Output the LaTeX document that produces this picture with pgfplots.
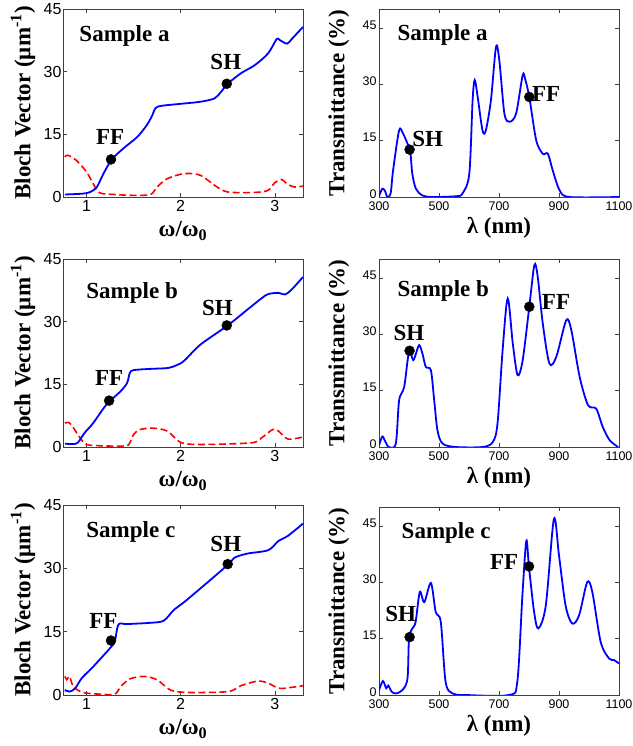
\documentclass[border=0pt]{standalone}
\usepackage{fontspec}
\setmainfont{Liberation Serif}
\newfontfamily\ticksf{Liberation Sans}
\usepackage{pgfplots}
\pgfplotsset{compat=1.18}

\tikzset{ann/.style={font=\fontsize{23}{24}\selectfont\bfseries, text=black}}
\pgfplotsset{
  base/.style={scale only axis, width=240pt, height=188pt,
    axis line style={black!75, line width=0.6pt},
    tick align=inside, major tick length=4pt,
    tick style={black!75, line width=0.5pt},
    /pgf/number format/assume math mode=true,
    /pgf/number format/1000 sep={},
    label style={font=\fontsize{23}{24}\selectfont\bfseries},
    ylabel style={at={(axis description cs:-0.167,0.5)}, anchor=center},
    anchor=south west},
  bloch/.style={base, xmin=0.75, xmax=3.3, ymin=0, ymax=45,
    xtick={1,2,3}, ytick={0,15,30,45},
    tick label style={font=\ticksf\fontsize{16}{16}\selectfont},
    yticklabel style={xshift=2pt},
    xlabel={ω/ω\textsubscript{0}},
    ylabel={Bloch Vector (μm\textsuperscript{-1})},
    xlabel style={at={(axis description cs:0.5,-0.18)}, anchor=center}},
  trans/.style={base, xmin=300, xmax=1100, ymin=0, ymax=50,
    xtick={300,500,700,900,1100}, ytick={0,15,30,45},
    tick label style={font=\ticksf\fontsize{12.5}{13}\selectfont},
    yticklabel style={xshift=1pt, yshift=3pt},
    xticklabel style={yshift=-1pt},
    xlabel={λ (nm)}, ylabel={Transmittance (\%)},
    xlabel style={at={(axis description cs:0.5,-0.165)}, anchor=center}},
  re/.style={blue, line width=1.8pt, smooth, tension=0.5, no marks},
  im/.style={red, line width=1.6pt, dash pattern=on 7pt off 3.5pt, smooth, tension=0.5, no marks},
  pt/.style={only marks, mark=*, mark size=5pt, black},
}

\begin{document}
\begin{tikzpicture}
\path[use as bounding box] (0,0) rectangle (632pt,746pt);

% ---- row 1: sample a
\begin{axis}[bloch, at={(63pt,549pt)}]
  \addplot[im] coordinates {(0.77,9.6) (0.8,10.0) (0.89,8.8) (1.0,6.0) (1.07,3.2) (1.14,1.0) (1.29,0.6) (1.5,0.4) (1.68,0.6) (1.75,2.4) (1.86,4.4) (2.04,5.6) (2.21,5.2) (2.36,2.8) (2.5,1.2) (2.79,1.1) (2.93,1.6) (3.0,3.4) (3.07,4.2) (3.14,3.0) (3.21,2.4) (3.3,2.6)};
  \addplot[re] coordinates {(0.77,0.6) (0.96,0.8) (1.04,1.2) (1.11,2.4) (1.18,5.6) (1.27,9.0) (1.39,11.6) (1.54,14.4) (1.64,17.2) (1.70,19.6) (1.73,21.2) (1.79,21.8) (2.0,22.3) (2.21,22.8) (2.36,23.6) (2.43,25.2) (2.5,27.1) (2.64,29.6) (2.79,31.6) (2.93,34.4) (3.02,37.8) (3.05,37.6) (3.13,36.7) (3.18,37.8) (3.3,40.7)};
  \addplot[pt] coordinates {(1.26,9.0) (2.49,27.1)};
  \node[ann, anchor=west] at (rel axis cs:0.054,0.856) {Sample a};
  \node[ann] at (axis cs:1.25,14.4) {FF};
  \node[ann] at (axis cs:2.48,32.4) {SH};
\end{axis}
\begin{axis}[trans, at={(379pt,549pt)}]
  \addplot[re] coordinates {(300,0.2) (311,2.2) (320,1.6) (328,0) (339,1.1) (347,7.1) (367,17.7) (380,16.9) (395,14.2) (404,12.4) (411,6.2) (423,2.2) (445,0.4) (478,0) (556,0.2) (578,0.9) (601,6.2) (612,25.7) (619,31.1) (629,26.6) (645,17.7) (656,17.7) (673,25.7) (690,39.9) (701,36.4) (718,22.2) (735,20.0) (757,22.2) (779,32.4) (788,31.1) (801,26.6) (824,15.1) (846,11.5) (863,11.5) (879,7.1) (902,1.8) (935,0) (1100,0)};
  \addplot[pt] coordinates {(402,12.6) (801,26.6)};
  \node[ann, anchor=west] at (rel axis cs:0.0625,0.86) {Sample a};
  \node[ann] at (axis cs:857,27.5) {FF};
  \node[ann] at (axis cs:462,15.5) {SH};
\end{axis}

% ---- row 2: sample b
\begin{axis}[bloch, at={(63pt,299pt)}]
  \addplot[im] coordinates {(0.77,5.7) (0.80,5.9) (0.84,5.3) (0.93,2.2) (1.0,0.6) (1.14,0.3) (1.39,0.2) (1.45,0.6) (1.5,3.0) (1.57,4.2) (1.71,4.5) (1.86,3.8) (2.0,1.1) (2.21,0.6) (2.75,1.0) (2.86,2.2) (2.98,4.2) (3.04,3.8) (3.14,1.9) (3.3,2.4)};
  \addplot[re] coordinates {(0.77,0.8) (0.86,0.7) (0.91,1.1) (0.98,3.4) (1.07,5.7) (1.21,10.1) (1.36,13.3) (1.43,15.3) (1.46,17.7) (1.5,18.4) (1.68,18.7) (1.86,18.9) (1.96,19.6) (2.04,20.7) (2.21,24.5) (2.5,29.1) (2.71,32.9) (2.86,35.6) (2.93,36.6) (3.04,36.9) (3.11,36.5) (3.18,37.7) (3.3,40.7)};
  \addplot[pt] coordinates {(1.24,11.1) (2.49,29.1)};
  \node[ann, anchor=west] at (rel axis cs:0.083,0.82) {Sample b};
  \node[ann] at (axis cs:1.24,16.5) {FF};
  \node[ann] at (axis cs:2.39,33.3) {SH};
\end{axis}
\begin{axis}[trans, at={(379pt,299pt)}]
  \addplot[re] coordinates {(300,0.4) (311,2.8) (320,1.6) (333,0) (356,0.9) (367,12.4) (384,16.0) (400,25.3) (414,23.1) (423,24.8) (434,27.1) (445,24.8) (456,21.3) (473,20.4) (484,12.4) (495,4.4) (512,0.9) (556,0) (645,0) (679,1.3) (695,6.2) (712,25.7) (729,39.5) (746,27.5) (762,19.1) (779,23.1) (801,37.3) (818,48.4) (829,45.3) (846,32.8) (868,22.2) (891,24.0) (924,33.7) (941,31.1) (969,18.6) (997,11.1) (1024,10.2) (1046,5.3) (1069,1.8) (1097,0)};
  \addplot[pt] coordinates {(402,25.6) (801,37.3)};
  \node[ann, anchor=west] at (rel axis cs:0.0625,0.83) {Sample b};
  \node[ann] at (axis cs:890,38.6) {FF};
  \node[ann] at (axis cs:400,30.2) {SH};
\end{axis}

% ---- row 3: sample c
\begin{axis}[bloch, at={(63pt,51pt)}, height=190pt]
  \addplot[im] coordinates {(0.77,4.4) (0.79,3.6) (0.82,4.4) (0.86,2.0) (0.96,0.6) (1.14,0.2) (1.30,0.2) (1.36,1.9) (1.46,3.8) (1.61,4.4) (1.75,3.6) (1.89,1.2) (2.07,0.6) (2.5,0.8) (2.64,2.2) (2.82,3.3) (2.93,2.8) (3.04,1.6) (3.14,1.7) (3.3,2.2)};
  \addplot[re] coordinates {(0.77,1.2) (0.82,0.8) (0.88,1.6) (0.95,4.0) (1.07,6.7) (1.25,11.1) (1.30,12.7) (1.34,16.7) (1.43,16.8) (1.68,17.1) (1.82,17.6) (1.93,20.2) (2.07,22.6) (2.5,30.8) (2.57,32.5) (2.71,33.5) (2.93,34.3) (3.04,36.5) (3.14,37.7) (3.3,40.6)};
  \addplot[pt] coordinates {(1.26,12.9) (2.5,31.0)};
  \node[ann, anchor=west] at (rel axis cs:0.083,0.86) {Sample c};
  \node[ann] at (axis cs:1.18,17.5) {FF};
  \node[ann] at (axis cs:2.48,35.7) {SH};
\end{axis}
\begin{axis}[trans, at={(379pt,51pt)}]
  \addplot[re] coordinates {(300,1.3) (313,3.7) (324,1.8) (331,2.5) (342,0.9) (356,0.4) (378,1.3) (395,4.4) (400,15.0) (411,17.7) (422,19.4) (436,27.4) (451,24.7) (473,29.8) (489,22.1) (506,19.4) (522,3.5) (545,0.4) (589,0) (733,0) (761,3.5) (778,26.5) (791,41.0) (800,34.0) (817,22.1) (831,17.7) (856,23.8) (883,46.8) (900,37.1) (922,23.8) (944,19.0) (967,21.2) (994,30.0) (1011,27.4) (1039,14.1) (1067,9.7) (1083,9.3) (1100,8.4)};
  \addplot[pt] coordinates {(402,15.4) (800,34.2)};
  \node[ann, anchor=west] at (rel axis cs:0.08,0.86) {Sample c};
  \node[ann] at (axis cs:717,35.3) {FF};
  \node[ann] at (axis cs:372,21.6) {SH};
\end{axis}
\end{tikzpicture}
\end{document}
